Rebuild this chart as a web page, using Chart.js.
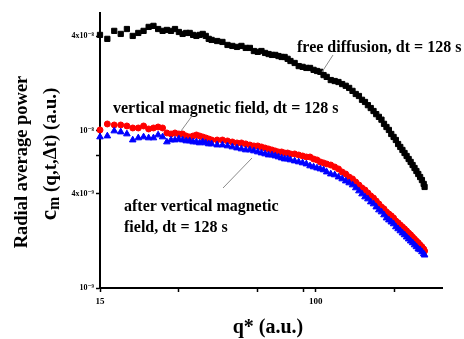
<!DOCTYPE html>
<html>
<head>
<meta charset="utf-8">
<script src="https://cdn.jsdelivr.net/npm/chart.js@4.4.1/dist/chart.umd.min.js"></script>
<style>
  html, body { margin: 0; padding: 0; background: #fff; }
  canvas { display: block; }
</style>
</head>
<body>
<canvas id="chart" width="464" height="339"></canvas>
<script>
// q* values (a.u.), shared by the three runs
const qValues = [
  15, 16, 17, 18, 19, 20, 21, 22, 23, 24, 25, 26, 27, 28, 29, 30, 31, 32, 33, 34, 35, 36, 37, 38, 39, 40,
  42, 44, 46, 48, 50, 52, 54, 56, 58, 60, 62, 64, 66, 68, 70, 72, 74, 76, 78, 80,
  83, 86, 89, 92, 95, 98, 101, 104, 107, 110,
  114, 118, 122, 126, 130, 134, 138, 142, 146, 150, 154, 158, 162, 166, 170, 174, 178, 182, 186, 190,
  194, 198, 202, 206, 210, 214, 218, 222, 226, 230, 234, 238, 242, 246, 250, 254, 258, 260
];

// radial average power, in units of 1e-9 (a.u.)
const freeDiffusion = [
  40.9, 38.6, 43.4, 41.5, 44.6, 40.3, 42.1, 43.4, 46.0, 46.7, 44.6, 43.4, 44.0, 43.4, 44.6, 42.7, 41.5, 42.1, 42.1, 40.9, 40.3, 40.9, 41.5, 40.3, 38.6, 38.0,
  37.4, 36.9, 35.3, 34.8, 34.3, 34.8, 33.8, 33.8, 32.3, 31.9, 32.3, 31.4, 30.9, 30.5, 30.5, 30.0, 29.6, 29.6, 28.8, 27.9,
  27.1, 25.9, 25.6, 25.2, 25.2, 24.5, 24.1, 23.8, 22.7, 22.1,
  21.1, 20.8, 20.5, 19.9, 19.4, 18.8, 18.0, 17.2, 16.7, 15.8, 15.3, 14.6, 14.0, 13.4, 12.8, 12.3, 11.8, 11.1, 10.6, 10.15,
  9.57, 9.16, 8.76, 8.26, 7.91, 7.57, 7.24, 6.93, 6.63, 6.35, 6.07, 5.81, 5.56, 5.32, 5.09, 4.87, 4.60, 4.40
];
const verticalField = [
  10.15, 11.08, 10.92, 10.92, 10.76, 10.45, 10.45, 10.76, 10.30, 10.45, 10.60, 10.45, 9.71, 9.57, 9.71, 9.57, 9.57, 9.29, 9.16, 9.29, 9.43, 9.29, 9.16, 9.03, 8.89, 8.76,
  8.76, 8.76, 8.64, 8.51, 8.39, 8.39, 8.27, 8.14, 8.03, 8.03, 7.91, 7.79, 7.68, 7.57, 7.46, 7.35, 7.35, 7.24, 7.24, 7.14,
  7.14, 7.03, 6.93, 6.83, 6.83, 6.63, 6.54, 6.35, 6.26, 6.16,
  6.07, 5.90, 5.73, 5.48, 5.32, 5.09, 4.95, 4.73, 4.53, 4.34, 4.21, 4.03, 3.86, 3.74, 3.58, 3.43, 3.28, 3.19, 3.05, 2.96,
  2.88, 2.79, 2.67, 2.60, 2.52, 2.45, 2.38, 2.31, 2.24, 2.18, 2.11, 2.05, 1.99, 1.94, 1.88, 1.83, 1.77, 1.72
];
const afterVerticalField = [
  9.16, 9.29, 10.0, 9.85, 9.57, 8.76, 9.03, 9.16, 9.03, 9.03, 9.43, 9.16, 8.51, 8.76, 8.76, 8.89, 8.76, 8.64, 8.64, 8.51, 8.51, 8.39, 8.51, 8.39, 8.27, 8.27,
  8.14, 8.14, 8.03, 7.91, 7.79, 7.68, 7.57, 7.57, 7.46, 7.35, 7.24, 7.14, 7.03, 7.03, 6.93, 6.83, 6.73, 6.63, 6.63, 6.54,
  6.44, 6.35, 6.26, 6.16, 5.99, 5.90, 5.81, 5.73, 5.65, 5.48,
  5.32, 5.25, 5.09, 4.95, 4.80, 4.67, 4.53, 4.34, 4.15, 3.97, 3.80, 3.69, 3.53, 3.43, 3.28, 3.14, 3.05, 2.92, 2.79, 2.71,
  2.63, 2.56, 2.45, 2.38, 2.31, 2.24, 2.18, 2.11, 2.05, 1.99, 1.94, 1.88, 1.83, 1.77, 1.75, 1.70, 1.65, 1.62
];

const xTicks = [15, 30, 60, 90, 100, 200];
const xTickLabels = { 15: '15', 100: '100' };
const yTicks = [1, 4, 7, 10, 40];
const yTickLabels = { 1: '10⁻⁹', 4: '4x10⁻⁹', 10: '10⁻⁸', 40: '4x10⁻⁸' };

const SERIF = "'Liberation Serif', 'Times New Roman', 'DejaVu Serif', serif";

const toPoints = (values) => qValues.map((q, i) => ({ x: q, y: values[i] }));

// axis titles and the in-plot annotations are drawn straight onto the canvas
// (the y title needs a subscript, which Chart.js titles can't do)
const textPlugin = {
  id: 'plotText',
  afterDraw(chart) {
    const ctx = chart.ctx;
    ctx.save();
    ctx.fillStyle = '#000';
    ctx.textBaseline = 'alphabetic';

    // x title
    ctx.font = `bold 20px ${SERIF}`;
    ctx.textAlign = 'center';
    ctx.fillText('q* (a.u.)', 268, 333);

    // y title, first line
    ctx.save();
    ctx.translate(27, 162);
    ctx.rotate(-Math.PI / 2);
    ctx.font = `bold 18.5px ${SERIF}`;
    ctx.fillText('Radial average power', 0, 0);
    ctx.restore();

    // y title, second line: c_m (q,t,Δt) (a.u.)
    ctx.save();
    ctx.translate(56, 154);
    ctx.rotate(-Math.PI / 2);
    ctx.textAlign = 'left';
    const rest = ' (q,t,\u0394t) (a.u.)';
    ctx.font = `bold 23px ${SERIF}`;
    const wc = ctx.measureText('c').width;
    ctx.font = `bold 16px ${SERIF}`;
    const wm = ctx.measureText('m').width;
    ctx.font = `bold 19px ${SERIF}`;
    const wr = ctx.measureText(rest).width;
    let x0 = -(wc + wm + wr) / 2;
    ctx.font = `bold 23px ${SERIF}`;
    ctx.fillText('c', x0, 0);
    x0 += wc;
    ctx.font = `bold 16px ${SERIF}`;
    ctx.fillText('m', x0, 3);
    x0 += wm;
    ctx.font = `bold 19px ${SERIF}`;
    ctx.fillText(rest, x0, 0);
    ctx.restore();

    // annotations
    ctx.font = `bold 16px ${SERIF}`;
    ctx.textAlign = 'left';
    ctx.fillText('free diffusion, dt = 128 s', 297, 52);
    ctx.fillText('vertical magnetic field, dt = 128 s', 113, 113);
    ctx.fillText('after vertical magnetic', 124, 211);
    ctx.fillText('field, dt = 128 s', 124, 232);

    // leader lines
    ctx.strokeStyle = '#8a8a8a';
    ctx.lineWidth = 1;
    ctx.beginPath();
    ctx.moveTo(333, 55); ctx.lineTo(322, 72);
    ctx.moveTo(192, 116); ctx.lineTo(181, 131);
    ctx.moveTo(223, 188); ctx.lineTo(252, 158);
    ctx.stroke();

    ctx.restore();
  }
};

new Chart(document.getElementById('chart'), {
  type: 'scatter',
  data: {
    datasets: [
      {
        label: 'after vertical magnetic field, dt = 128 s',
        data: toPoints(afterVerticalField),
        pointStyle: 'triangle',
        pointRadius: 3.8,
        borderWidth: 1,
        backgroundColor: '#0000ff',
        borderColor: '#0000ff',
        clip: false,
      },
      {
        label: 'vertical magnetic field, dt = 128 s',
        data: toPoints(verticalField),
        pointStyle: 'circle',
        pointRadius: 3,
        borderWidth: 1,
        backgroundColor: '#ff0000',
        borderColor: '#ff0000',
        clip: false,
      },
      {
        label: 'free diffusion, dt = 128 s',
        data: toPoints(freeDiffusion),
        pointStyle: 'rect',
        pointRadius: 3.7,
        borderWidth: 1,
        backgroundColor: '#000000',
        borderColor: '#000000',
        clip: false,
      },
    ],
  },
  options: {
    responsive: false,
    animation: false,
    devicePixelRatio: 1,
    layout: { padding: { left: 0, right: 22, top: 13, bottom: 0 } },
    plugins: {
      legend: { display: false },
      tooltip: { enabled: false },
    },
    scales: {
      x: {
        type: 'logarithmic',
        min: 15,
        max: 303,
        afterFit: (scale) => { scale.height = 51; },
        afterBuildTicks: (scale) => { scale.ticks = xTicks.map((v) => ({ value: v })); },
        grid: { drawOnChartArea: false, tickLength: 4, tickColor: '#000', tickWidth: 1.5 },
        border: { color: '#000', width: 2 },
        ticks: {
          autoSkip: false,
          maxRotation: 0,
          padding: 4,
          color: '#000',
          font: { family: SERIF, weight: 'bold', size: 9 },
          callback: (value) => xTickLabels[value] ?? '',
        },
      },
      y: {
        type: 'logarithmic',
        min: 1,
        max: 56.4,
        afterFit: (scale) => { scale.width = 100; },
        afterBuildTicks: (scale) => { scale.ticks = yTicks.map((v) => ({ value: v })); },
        grid: { drawOnChartArea: false, tickLength: 4, tickColor: '#000', tickWidth: 1.5 },
        border: { color: '#000', width: 2 },
        ticks: {
          autoSkip: false,
          padding: 2,
          color: '#000',
          font: { family: SERIF, weight: 'bold', size: 8 },
          callback: (value) => yTickLabels[value] ?? '',
        },
      },
    },
  },
  plugins: [textPlugin],
});
</script>
</body>
</html>
